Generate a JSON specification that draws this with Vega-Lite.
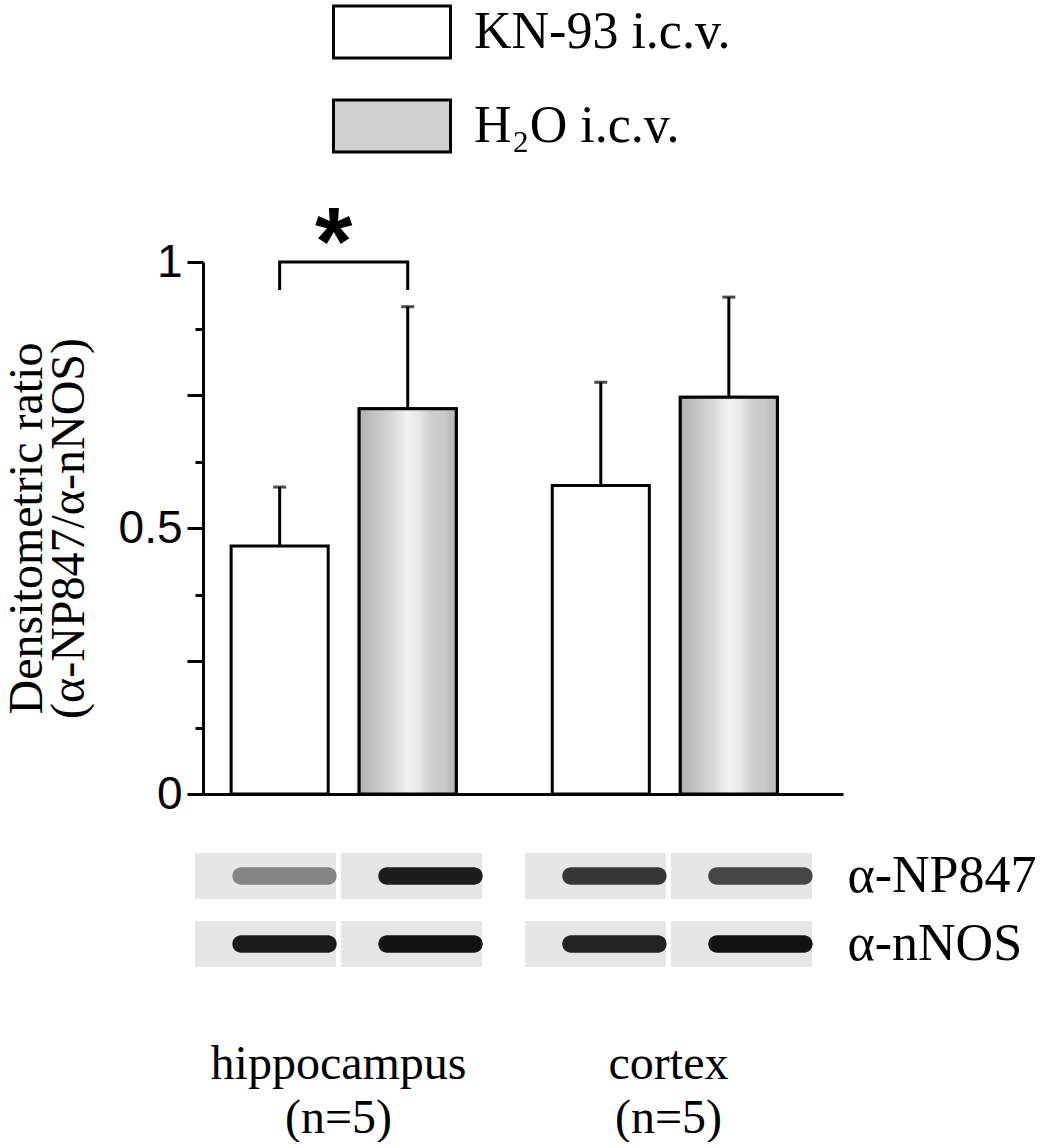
{
  "$schema": "https://vega.github.io/schema/vega-lite/v6.json",
  "padding": {"left": 3, "top": -28, "right": 0, "bottom": 0},
  "config": {"view": {"stroke": null}, "font": "Liberation Serif", "background": "white"},
  "datasets": {
    "bars": [
      {"region": "hippocampus", "treatment": "KN-93 i.c.v.", "ratio": 0.466, "upper": 0.577},
      {"region": "hippocampus", "treatment": "H₂O i.c.v.", "ratio": 0.724, "upper": 0.916},
      {"region": "cortex", "treatment": "KN-93 i.c.v.", "ratio": 0.58, "upper": 0.774},
      {"region": "cortex", "treatment": "H₂O i.c.v.", "ratio": 0.746, "upper": 0.934}
    ],
    "bracket": [
      {"region": "hippocampus", "treatment": "KN-93 i.c.v.", "y": 0.95, "order": 1},
      {"region": "hippocampus", "treatment": "KN-93 i.c.v.", "y": 1.0, "order": 2},
      {"region": "hippocampus", "treatment": "H₂O i.c.v.", "y": 1.0, "order": 3},
      {"region": "hippocampus", "treatment": "H₂O i.c.v.", "y": 0.95, "order": 4}
    ],
    "stars": [{"region": "hippocampus", "y": 1.0, "label": "*"}],
    "blots": [
      {"region": "hippocampus", "treatment": "KN-93 i.c.v.", "antibody": "α-NP847", "density": 0.42},
      {"region": "hippocampus", "treatment": "H₂O i.c.v.", "antibody": "α-NP847", "density": 0.88},
      {"region": "cortex", "treatment": "KN-93 i.c.v.", "antibody": "α-NP847", "density": 0.76},
      {"region": "cortex", "treatment": "H₂O i.c.v.", "antibody": "α-NP847", "density": 0.7},
      {"region": "hippocampus", "treatment": "KN-93 i.c.v.", "antibody": "α-nNOS", "density": 0.88},
      {"region": "hippocampus", "treatment": "H₂O i.c.v.", "antibody": "α-nNOS", "density": 0.92},
      {"region": "cortex", "treatment": "KN-93 i.c.v.", "antibody": "α-nNOS", "density": 0.85},
      {"region": "cortex", "treatment": "H₂O i.c.v.", "antibody": "α-nNOS", "density": 0.92}
    ]
  },
  "spacing": 25,
  "resolve": {
    "scale": {"x": "independent", "xOffset": "independent", "y": "independent", "color": "independent", "opacity": "independent"},
    "legend": {"color": "independent"}
  },
  "vconcat": [
    {
      "width": 640,
      "height": 532,
      "encoding": {
        "x": {
          "field": "region", "type": "nominal", "sort": ["hippocampus", "cortex"],
          "scale": {"paddingInner": 0.299, "paddingOuter": 0.146, "align": 0.3},
          "axis": {"labels": false, "ticks": false, "title": null, "domainColor": "black", "domainWidth": 3}
        }
      },
      "layer": [
        {
          "data": {"name": "bars"},
          "mark": {"type": "bar", "stroke": "black", "strokeWidth": 3},
          "encoding": {
            "xOffset": {"field": "treatment", "sort": ["KN-93 i.c.v.", "H₂O i.c.v."], "scale": {"paddingInner": 0.242, "paddingOuter": 0}},
            "y": {
              "field": "ratio", "type": "quantitative",
              "scale": {"domain": [0, 1]},
              "axis": {
                "values": [0, 0.125, 0.25, 0.375, 0.5, 0.625, 0.75, 0.875, 1],
                "grid": false,
                "domainColor": "black", "domainWidth": 3,
                "tickColor": "black", "tickWidth": 3,
                "tickSize": {"condition": {"test": "datum.value == 0 || datum.value == 0.25 || datum.value == 0.5 || datum.value == 0.75 || datum.value == 1", "value": 16}, "value": 8},
                "labelExpr": "datum.value == 0 ? '0' : datum.value == 0.5 ? '0.5' : datum.value == 1 ? '1' : ''",
                "labelFont": "Liberation Sans", "labelFontSize": 46, "labelColor": "black", "labelPadding": 5,
                "title": ["Densitometric ratio", "(α-NP847/α-nNOS)"],
                "titleFont": "Liberation Serif", "titleFontSize": 48, "titleFontWeight": "normal", "titleColor": "black",
                "titleLineHeight": 42, "titlePadding": 25
              }
            },
            "color": {
              "field": "treatment", "type": "nominal", "sort": ["KN-93 i.c.v.", "H₂O i.c.v."],
              "scale": {"domain": ["KN-93 i.c.v.", "H₂O i.c.v."], "range": ["white", "#d0d0d0"]},
              "legend": {
                "orient": "none", "legendX": 129, "legendY": -290, "direction": "vertical",
                "title": null,
                "symbolType": "M-1,-0.444L1,-0.444L1,0.444L-1,0.444Z",
                "symbolSize": 13689,
                "symbolStrokeWidth": 3, "symbolStrokeColor": "black", "symbolOpacity": 1,
                "labelFont": "Liberation Serif", "labelFontSize": 52, "labelColor": "black",
                "labelOffset": 22, "rowPadding": 2, "labelLimit": 0
              }
            }
          }
        },
        {
          "data": {"name": "bars"},
          "transform": [{"filter": "datum.treatment === 'H₂O i.c.v.'"}],
          "mark": {"type": "bar", "stroke": "black", "strokeWidth": 3,
            "fill": {"gradient": "linear", "stops": [
              {"offset": 0, "color": "#b0b0b0"}, {"offset": 0.2, "color": "#c8c8c8"}, {"offset": 0.32, "color": "#d6d6d6"},
              {"offset": 0.5, "color": "#f2f2f2"}, {"offset": 0.62, "color": "#e6e6e6"}, {"offset": 0.74, "color": "#cfcfcf"},
              {"offset": 0.88, "color": "#c8c8c8"}, {"offset": 1, "color": "#b4b4b4"}]}},
          "encoding": {
            "xOffset": {"field": "treatment", "sort": ["KN-93 i.c.v.", "H₂O i.c.v."]},
            "y": {"field": "ratio", "type": "quantitative"}
          }
        },
        {
          "data": {"name": "bars"},
          "mark": {"type": "rule", "color": "black", "strokeWidth": 3},
          "encoding": {
            "xOffset": {"field": "treatment", "sort": ["KN-93 i.c.v.", "H₂O i.c.v."]},
            "y": {"field": "ratio", "type": "quantitative"},
            "y2": {"field": "upper"}
          }
        },
        {
          "data": {"name": "bars"},
          "mark": {"type": "tick", "color": "black", "size": 13, "thickness": 3, "orient": "horizontal"},
          "encoding": {
            "xOffset": {"field": "treatment", "sort": ["KN-93 i.c.v.", "H₂O i.c.v."]},
            "y": {"field": "upper", "type": "quantitative"}
          }
        },
        {
          "data": {"name": "bracket"},
          "mark": {"type": "line", "color": "black", "strokeWidth": 3, "strokeCap": "square"},
          "encoding": {
            "xOffset": {"field": "treatment", "sort": ["KN-93 i.c.v.", "H₂O i.c.v."]},
            "y": {"field": "y", "type": "quantitative"},
            "order": {"field": "order", "type": "quantitative"}
          }
        },
        {
          "data": {"name": "stars"},
          "mark": {"type": "text", "font": "Liberation Sans", "fontWeight": "bold", "fontSize": 96, "color": "black", "baseline": "alphabetic", "dy": 12, "dx": -10},
          "encoding": {
            "y": {"field": "y", "type": "quantitative"},
            "text": {"field": "label"}
          }
        }
      ]
    },
    {
      "width": 640,
      "height": 136,
      "data": {"name": "blots"},
      "encoding": {
        "x": {
          "field": "region", "type": "nominal", "sort": ["hippocampus", "cortex"],
          "scale": {"range": [-8, 609], "paddingInner": 0.13, "paddingOuter": 0},
          "axis": {"orient": "bottom", "domain": false, "ticks": false, "title": null, "labelAngle": 0,
            "labelFont": "Liberation Serif", "labelFontSize": 48, "labelColor": "black", "labelLimit": 0,
            "labelPadding": 62, "labelLineHeight": 54,
            "labelExpr": "[datum.label, '(n=5)']"}
        },
        "xOffset": {"field": "treatment", "sort": ["KN-93 i.c.v.", "H₂O i.c.v."], "scale": {"paddingInner": 0.034, "paddingOuter": 0}},
        "y": {
          "field": "antibody", "type": "nominal", "sort": ["α-NP847", "α-nNOS"],
          "scale": {"paddingInner": 0.324, "paddingOuter": 0.162},
          "axis": {"orient": "right", "domain": false, "ticks": false, "title": null,
            "labelFont": "Liberation Serif", "labelFontSize": 52, "labelColor": "black", "labelPadding": 4, "labelLimit": 0}
        }
      },
      "layer": [
        {"mark": {"type": "rect", "color": "#e6e6e6"}},
        {
          "mark": {"type": "rect", "color": "black", "width": {"band": 0.74}, "height": {"band": 0.38}, "cornerRadius": 9},
          "encoding": {
            "opacity": {"field": "density", "type": "quantitative", "scale": {"domain": [0, 1], "range": [0, 1]}, "legend": null}
          }
        }
      ]
    }
  ]
}
